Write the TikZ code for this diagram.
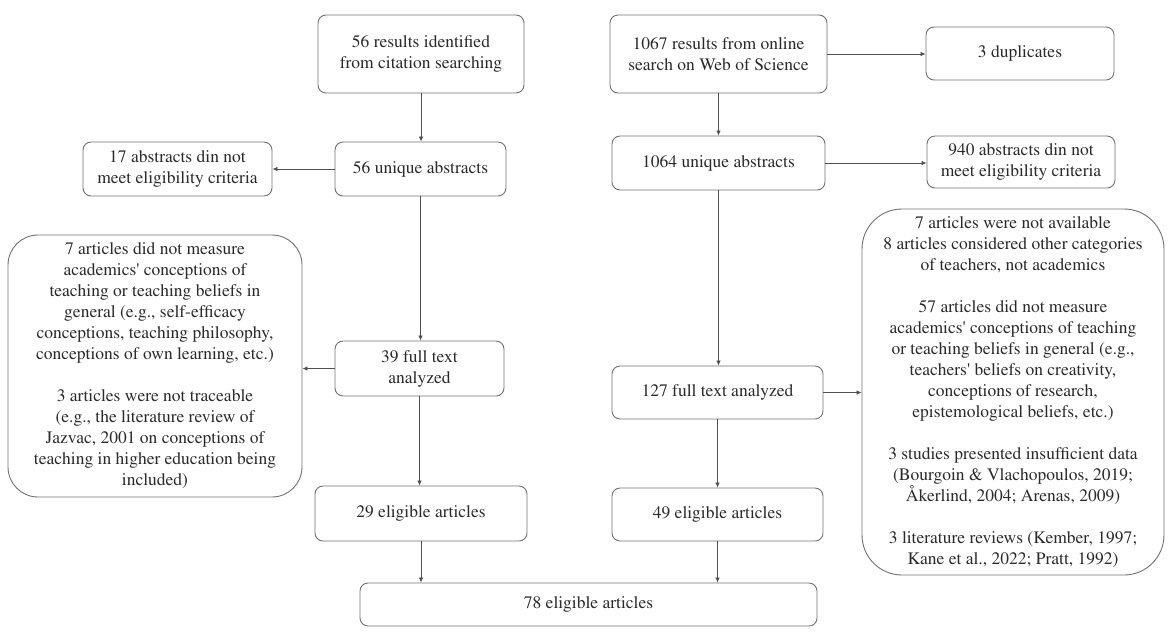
\documentclass[tikz,border=0pt]{standalone}
\usepackage[T1]{fontenc}
\usepackage{times}
\usetikzlibrary{arrows.meta}
\definecolor{boxgray}{HTML}{707070}
\definecolor{arrgray}{HTML}{505050}
\definecolor{txtgray}{HTML}{2A2A2A}
\begin{document}
\begin{tikzpicture}[x=1pt,y=-1pt,
  box/.style={draw=boxgray, line width=0.9pt, rounded corners=8pt, inner sep=0pt,
    align=center, text=txtgray, font=\rmfamily\fontsize{17.5}{21}\selectfont},
  bigbox/.style={box, rounded corners=34pt},
  arr/.style={draw=arrgray, line width=0.8pt, -{Latex[length=5pt,width=4.5pt]}}]
\useasboundingbox (0,0) rectangle (1169,633);

\node[box, minimum width=206pt, minimum height=78pt] (A) at (421,54)
  {56 results identified\\from citation searching};
\node[box, minimum width=217pt, minimum height=78pt] (B) at (718.5,54)
  {1067 results from online\\search on Web of Science};
\node[box, minimum width=188pt, minimum height=53pt] (C) at (1020,53.5)
  {3 duplicates};
\node[box, minimum width=189pt, minimum height=54pt] (D) at (177.5,169)
  {17 abstracts din not\\meet eligibility criteria};
\node[box, minimum width=171pt, minimum height=54pt] (E) at (420.5,169)
  {56 unique abstracts};
\node[box, minimum width=213pt, minimum height=54pt] (F) at (718.5,163)
  {1064 unique abstracts};
\node[box, minimum width=188pt, minimum height=52pt] (G) at (1021,162)
  {940 abstracts din not\\meet eligibility criteria};
\node[bigbox, rounded corners=30pt, minimum width=294pt, minimum height=262pt] (H) at (155,366)
  {7 articles did not measure\\academics\textquotesingle{} conceptions of\\teaching or teaching beliefs in\\general (e.g., self-efficacy\\conceptions, teaching philosophy,\\conceptions of own learning, etc.)\\[21pt]3 articles were not traceable\\(e.g., the literature review of\\Jazvac, 2001 on conceptions of\\teaching in higher education being\\included)};
\node[box, minimum width=169pt, minimum height=55pt] (I) at (419.5,368.5)
  {39 full text\\analyzed};
\node[box, minimum width=211pt, minimum height=53pt] (J) at (717.5,392.5)
  {127 full text analyzed};
\node[bigbox, rounded corners=40pt, minimum width=302pt, minimum height=366pt] (K) at (1013,392)
  {7 articles were not available\\8 articles considered other categories\\of teachers, not academics\\[21pt]57 articles did not measure\\academics\textquotesingle{} conceptions of teaching\\or teaching beliefs in general (e.g.,\\teachers\textquotesingle{} beliefs on creativity,\\conceptions of research,\\epistemological beliefs, etc.)\\[21pt]3 studies presented insufficient data\\(Bourgoin \& Vlachopoulos, 2019;\\\AA kerlind, 2004; Arenas, 2009)\\[21pt]3 literature reviews (Kember, 1997;\\Kane et al., 2022; Pratt, 1992)};
\node[box, minimum width=212pt, minimum height=55pt] (L) at (421,513.5)
  {29 eligible articles};
\node[box, minimum width=211pt, minimum height=53pt] (M) at (717.5,514.5)
  {49 eligible articles};
\node[box, minimum width=457pt, minimum height=43pt] (N) at (588.5,604.5)
  {78 eligible articles};

\draw[arr] (A.south) -- (A.south |- E.north);
\draw[arr] (B.east) -- (B.east -| C.west);
\draw[arr] (E.west) -- (E.west -| D.east);
\draw[arr] (B.south) -- (B.south |- F.north);
\draw[arr] (F.east) -- (F.east -| G.west);
\draw[arr] (E.south) -- (E.south |- I.north);
\draw[arr] (I.west) -- (I.west -| H.east);
\draw[arr] (F.south) -- (F.south |- J.north);
\draw[arr] (J.east) -- (J.east -| K.west);
\draw[arr] (I.south) -- (I.south |- L.north);
\draw[arr] (J.south) -- (J.south |- M.north);
\draw[arr] (L.south) -- (L.south |- N.north);
\draw[arr] (M.south) -- (M.south |- N.north);
\end{tikzpicture}
\end{document}
